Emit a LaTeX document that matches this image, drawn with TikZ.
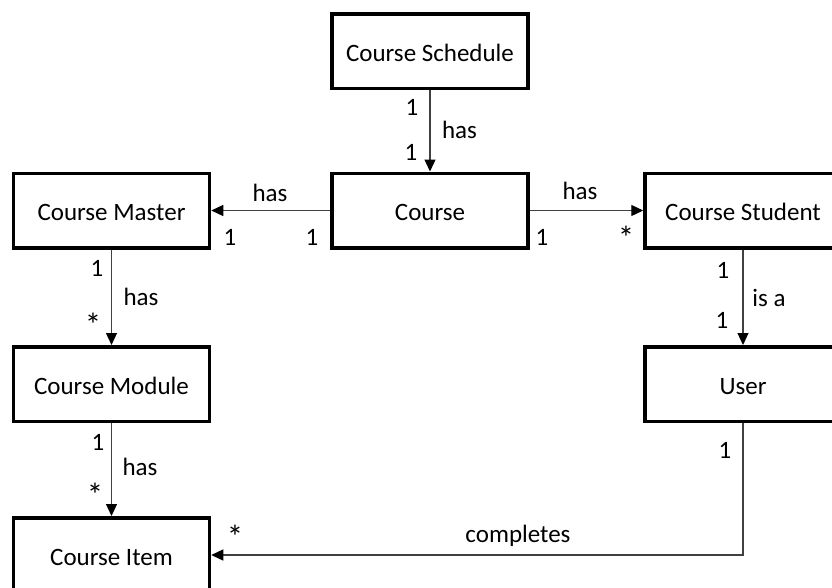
\documentclass[tikz,border=0pt]{standalone}
\usepackage{fontspec}
\setmainfont{Carlito}
\usetikzlibrary{arrows.meta}

\tikzset{
  entity/.style={draw=black, line width=3.5pt, fill=white,
    minimum width=196pt, minimum height=74.5pt, inner sep=0pt,
    text height=20pt, text depth=0pt,
    font=\fontsize{25}{30}\selectfont},
  link/.style={draw=black!75, line width=1.2pt,
    -{Triangle[length=12pt,width=11pt,color=black,fill=black]}},
  lbl/.style={inner sep=0pt, font=\fontsize{25}{30}\selectfont},
  many/.style={inner sep=0pt, font=\fontsize{33}{36}\selectfont}
}

\begin{document}
\begin{tikzpicture}[x=1pt, y=-1pt]
  \useasboundingbox (0,0) rectangle (832,587);
  \clip (0,0) rectangle (832,587);

  % classes
  \node[entity] (sched)   at (430,51)    {Course Schedule};
  \node[entity] (course)  at (430,210.5) {Course};
  \node[entity] (master)  at (111.5,210.5) {Course Master};
  \node[entity] (student) at (743,210.5) {Course Student};
  \node[entity] (module)  at (111.5,384) {Course Module};
  \node[entity] (user)    at (743,384)   {User};
  \node[entity] (item)    at (111.5,555) {Course Item};

  % associations
  \draw[link] (sched.south) -- (course.north);
  \draw[link] (course.west) -- (master.east);
  \draw[link] (course.east) -- (student.west);
  \draw[link] (master.south) -- (module.north);
  \draw[link] (module.south) -- (item.north);
  \draw[link] (student.south) -- (user.north);
  \draw[link] (user.south) |- (item.east);

  % multiplicities and role names
  \node[lbl] (m1a) at (412,107) {1};
  \node[lbl] (m1b) at (411,152) {1};
  \node[lbl] (r1)  at (459.5,130) {has};

  \node[lbl] (r2)  at (270,193) {has};
  \node[lbl] (m2a) at (230,237) {1};
  \node[lbl] (m2b) at (312,237) {1};

  \node[lbl] (r3)  at (580,191) {has};
  \node[lbl] (m3a) at (542,237) {1};
  \node[many] (m3b) at (626,238) {*};

  \node[lbl] (m4a) at (97,268) {1};
  \node[lbl] (r4)  at (141,297) {has};
  \node[many] (m4b) at (93,325) {*};

  \node[lbl] (m5a) at (98,442) {1};
  \node[lbl] (r5)  at (140,467) {has};
  \node[many] (m5b) at (95,495) {*};

  \node[lbl] (m6a) at (723,270) {1};
  \node[lbl] (r6)  at (769,298) {is a};
  \node[lbl] (m6b) at (722,320) {1};

  \node[lbl] (m7a) at (725,450) {1};
  \node[lbl, anchor=base] (r7) at (518,542) {completes};
  \node[many] (m7b) at (235,537) {*};
\end{tikzpicture}
\end{document}
